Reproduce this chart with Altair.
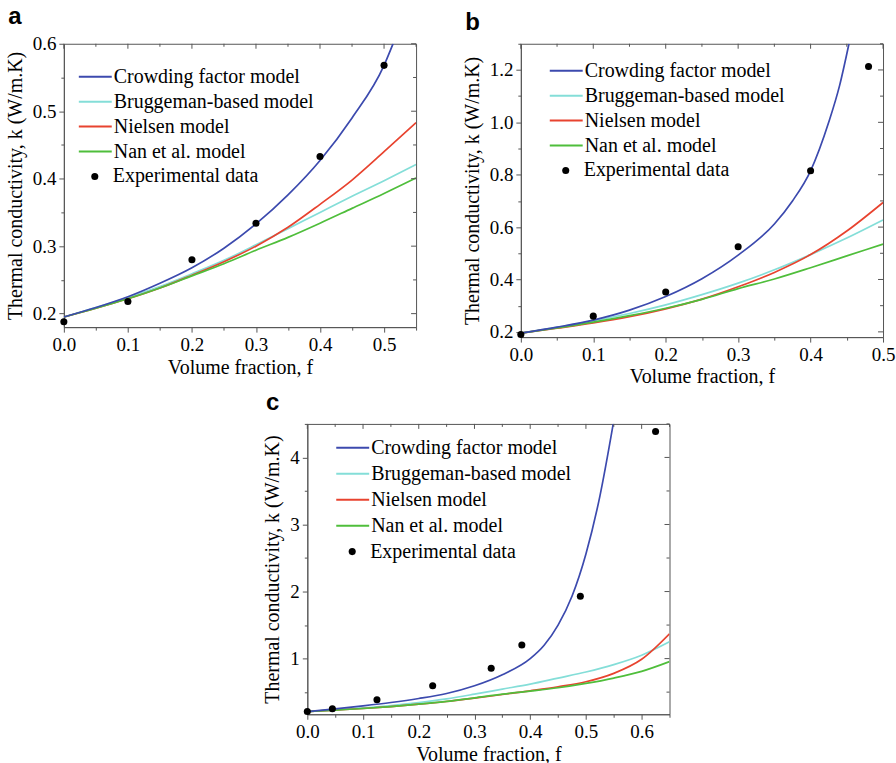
import altair as alt
import pandas as pd

MODELS = ["Crowding factor model", "Bruggeman-based model", "Nielsen model", "Nan et al. model"]
EXP = "Experimental data"
PALETTE = ["#3c4aae", "#84ded8", "#e8432f", "#4fbe3b"]
# later series are painted on top
DRAW_ORDER = ["Bruggeman-based model", "Nielsen model", "Nan et al. model", "Crowding factor model"]

SERIF = "Liberation Serif"
AXIS_COLOR = "#555555"

# ---------------- panel a ----------------
a_f = [0.0, 0.05, 0.10, 0.15, 0.20, 0.25, 0.30, 0.35, 0.40, 0.45, 0.50, 0.55]
a_crowd_f = [0.0, 0.05, 0.10, 0.15, 0.20, 0.25, 0.30, 0.35, 0.40, 0.45, 0.50, 0.514]
a_crowd = [0.195, 0.209, 0.225, 0.245, 0.268, 0.297, 0.333, 0.376, 0.427, 0.490, 0.568, 0.600]
a_brug = [0.195, 0.209, 0.224, 0.240, 0.259, 0.279, 0.302, 0.326, 0.350, 0.374, 0.397, 0.421]
a_niel = [0.195, 0.208, 0.222, 0.238, 0.257, 0.277, 0.300, 0.328, 0.362, 0.398, 0.440, 0.483]
a_nan = [0.195, 0.208, 0.222, 0.238, 0.256, 0.274, 0.294, 0.313, 0.334, 0.356, 0.378, 0.401]
a_exp_f = [0.0, 0.1, 0.2, 0.3, 0.4, 0.5]
a_exp_k = [0.188, 0.218, 0.280, 0.334, 0.433, 0.568]
a_yticks = [0.2, 0.25, 0.3, 0.35, 0.4, 0.45, 0.5, 0.55, 0.6]

# ---------------- panel b ----------------
b_f = [0.0, 0.05, 0.10, 0.15, 0.20, 0.25, 0.30, 0.35, 0.40, 0.45, 0.50]
b_crowd_f = [0.0, 0.05, 0.10, 0.15, 0.20, 0.25, 0.30, 0.35, 0.375, 0.40, 0.425, 0.44, 0.453]
b_crowd = [0.195, 0.218, 0.245, 0.283, 0.335, 0.403, 0.493, 0.612, 0.700, 0.815, 1.000, 1.140, 1.300]
b_brug = [0.195, 0.217, 0.242, 0.270, 0.303, 0.342, 0.386, 0.437, 0.495, 0.558, 0.627]
b_niel = [0.195, 0.214, 0.234, 0.258, 0.288, 0.325, 0.372, 0.427, 0.495, 0.585, 0.694]
b_nan = [0.195, 0.215, 0.237, 0.262, 0.290, 0.324, 0.365, 0.402, 0.445, 0.490, 0.535]
b_exp_f = [0.0, 0.1, 0.2, 0.3, 0.4, 0.48]
b_exp_k = [0.190, 0.260, 0.352, 0.525, 0.815, 1.213]
b_yticks = [0.2, 0.3, 0.4, 0.5, 0.6, 0.7, 0.8, 0.9, 1.0, 1.1, 1.2, 1.3]

# ---------------- panel c ----------------
c_f = [0.0, 0.05, 0.10, 0.15, 0.20, 0.25, 0.30, 0.35, 0.40, 0.45, 0.50, 0.55, 0.60, 0.65]
c_crowd_f = [0.0, 0.05, 0.10, 0.15, 0.20, 0.25, 0.30, 0.35, 0.40, 0.425, 0.45, 0.475, 0.50, 0.525, 0.549]
c_crowd = [0.21, 0.25, 0.295, 0.345, 0.405, 0.48, 0.595, 0.76, 1.00, 1.20, 1.50, 1.93, 2.56, 3.42, 4.50]
c_brug = [0.21, 0.235, 0.265, 0.30, 0.345, 0.40, 0.47, 0.545, 0.62, 0.71, 0.80, 0.91, 1.05, 1.25]
c_niel = [0.21, 0.232, 0.256, 0.285, 0.32, 0.36, 0.41, 0.465, 0.52, 0.58, 0.655, 0.78, 0.99, 1.37]
c_nan = [0.21, 0.232, 0.256, 0.285, 0.32, 0.362, 0.415, 0.47, 0.515, 0.565, 0.63, 0.71, 0.81, 0.955]
c_exp_f = [0.0, 0.045, 0.125, 0.225, 0.33, 0.385, 0.49, 0.625]
c_exp_k = [0.21, 0.253, 0.386, 0.594, 0.856, 1.203, 1.931, 4.386]
c_yticks = [0.5, 1.0, 1.5, 2.0, 2.5, 3.0, 3.5, 4.0, 4.5]


def curve_table(series):
    rows = []
    for name in DRAW_ORDER:
        fs, ks = series[name]
        for i, (f, k) in enumerate(zip(fs, ks)):
            rows.append({"model": name, "f": f, "k": k, "i": i})
    return pd.DataFrame(rows)


def exp_table(fs, ks):
    return pd.DataFrame({"f": fs, "k": ks, "model": [EXP] * len(fs)})


def split_ticks(values, step):
    major = [v for v in values if abs(round(v / step) * step - v) < 1e-9]
    minor = [v for v in values if v not in major]
    return major, minor


def line_legend(x, y, row_pad):
    return alt.Legend(
        title=None, orient="none", legendX=x, legendY=y, padding=0,
        labelFont=SERIF, labelFontSize=20, labelColor="black", labelOffset=1, labelLimit=400,
        symbolType="stroke", symbolSize=1089, symbolStrokeWidth=2,
        clipHeight=20, rowPadding=row_pad,
    )


def dot_legend(x, y):
    return alt.Legend(
        title=None, orient="none", legendX=x + 7, legendY=y, padding=0,
        labelFont=SERIF, labelFontSize=20, labelColor="black", labelOffset=8, labelLimit=400,
        symbolSize=50, symbolFillColor="black", symbolStrokeWidth=0,
        clipHeight=20,
    )


def inner_ticks(values, xenc, yenc, along, w, length):
    """Short rules on the top or right edge of the frame, pointing into the plot."""
    rules = alt.Chart(pd.DataFrame({"v": values})).mark_rule(color=AXIS_COLOR, strokeWidth=1)
    if along == "x":
        return rules.encode(x=xenc("v"), y=alt.value(0), y2=alt.value(length))
    return rules.encode(y=yenc("v"), x=alt.value(w), x2=alt.value(w - length))


def panel(letter, curves, exp, xmax, ydom, xvals, yvals, y_step, y_fmt,
          w, h, leg_x, leg_y, row_pad, title_offset):
    x_major_test = "round(datum.value * 20) % 2 == 0"
    y_major_test = f"abs(datum.value / {y_step} - round(datum.value / {y_step})) < 0.001"
    x_major, x_minor = split_ticks(xvals, 0.1)
    y_major, y_minor = split_ticks(yvals, y_step)
    xs = alt.Scale(domain=[0, xmax], nice=False, zero=False)
    ys = alt.Scale(domain=ydom, nice=False, zero=False)

    common = dict(grid=False, domainColor=AXIS_COLOR, tickColor=AXIS_COLOR,
                  domainWidth=1, tickWidth=1, labelFlush=False, labelOverlap=False)
    x_axis = alt.Axis(values=xvals, title="Volume fraction, f",
                      labelExpr=f"{x_major_test} ? format(datum.value, '.1f') : ''",
                      tickSize={"condition": {"test": x_major_test, "value": 5}, "value": 3},
                      labelPadding=3, titlePadding=3, **common)
    y_axis = alt.Axis(values=yvals, title="Thermal conductivity, k (W/m.K)",
                      labelExpr=f"{y_major_test} ? format(datum.value, '{y_fmt}') : ''",
                      tickSize={"condition": {"test": y_major_test, "value": 5}, "value": 3},
                      labelPadding=3, titlePadding=7, **common)

    # every layer carries the same scale and axis so they merge into one pair of axes
    def xenc(field):
        return alt.X(f"{field}:Q", scale=xs, axis=x_axis)

    def yenc(field):
        return alt.Y(f"{field}:Q", scale=ys, axis=y_axis)

    lines = alt.Chart(curves).mark_line(clip=True, strokeWidth=1.7, interpolate="monotone").encode(
        x=xenc("f"),
        y=yenc("k"),
        color=alt.Color("model:N", scale=alt.Scale(domain=MODELS, range=PALETTE),
                        legend=line_legend(leg_x, leg_y, row_pad)),
        order="i:Q",
    )
    points = alt.Chart(exp).mark_point(filled=True, size=50, opacity=1, color="black").encode(
        x=xenc("f"),
        y=yenc("k"),
        shape=alt.Shape("model:N", scale=alt.Scale(domain=[EXP], range=["circle"]),
                        legend=dot_legend(leg_x, leg_y + 4 * (20 + row_pad))),
    )
    frame_ticks = [
        inner_ticks(x_major, xenc, yenc, "x", w, 5),
        inner_ticks(x_minor, xenc, yenc, "x", w, 3),
        inner_ticks(y_major, xenc, yenc, "y", w, 5),
        inner_ticks(y_minor, xenc, yenc, "y", w, 3),
    ]
    title = alt.TitleParams(text=letter, anchor="start", font="Liberation Sans", fontSize=24,
                            fontWeight="bold", color="black", offset=title_offset, dx=3)
    return alt.layer(lines, points, *frame_ticks).properties(width=w, height=h, title=title)


pa = panel(
    "a",
    curve_table({
        "Crowding factor model": (a_crowd_f, a_crowd),
        "Bruggeman-based model": (a_f, a_brug),
        "Nielsen model": (a_f, a_niel),
        "Nan et al. model": (a_f, a_nan),
    }),
    exp_table(a_exp_f, a_exp_k),
    0.55, [0.18, 0.6], a_f, a_yticks, 0.1, ".1f",
    353, 284, 14, 23, 5, 6,
)

pb = panel(
    "b",
    curve_table({
        "Crowding factor model": (b_crowd_f, b_crowd),
        "Bruggeman-based model": (b_f, b_brug),
        "Nielsen model": (b_f, b_niel),
        "Nan et al. model": (b_f, b_nan),
    }),
    exp_table(b_exp_f, b_exp_k),
    0.5, [0.18, 1.3], b_f, b_yticks, 0.2, ".1f",
    363, 294, 28, 17, 5, 0,
)

pc = panel(
    "c",
    curve_table({
        "Crowding factor model": (c_crowd_f, c_crowd),
        "Bruggeman-based model": (c_f, c_brug),
        "Nielsen model": (c_f, c_niel),
        "Nan et al. model": (c_f, c_nan),
    }),
    exp_table(c_exp_f, c_exp_k),
    0.65, [0.17, 4.5], c_f, c_yticks, 1.0, "d",
    363, 291, 28, 14, 6, 0,
)

# blank block that pushes panel c towards the middle of the page
spacer = alt.Chart(pd.DataFrame({"v": [0]})).mark_point(opacity=0).properties(
    width=198, height=10, view=alt.ViewBackground(stroke=None)
)

top = alt.hconcat(pa, pb, spacing=44).resolve_scale(color="independent", shape="independent")
bottom = alt.hconcat(spacer, pc, spacing=0).resolve_scale(color="independent", shape="independent")
chart = alt.vconcat(top, bottom, spacing=2).resolve_scale(
    color="independent", shape="independent"
).configure(
    font=SERIF,
    padding={"left": 4, "top": 3, "right": 0, "bottom": 0},
).configure_view(
    stroke=AXIS_COLOR, strokeWidth=1,
).configure_axis(
    labelFont=SERIF, labelFontSize=19, labelColor="black",
    titleFont=SERIF, titleFontSize=20, titleFontWeight="normal", titleColor="black",
)

chart.save("out.html", embed_options={"renderer": "svg", "actions": False})
